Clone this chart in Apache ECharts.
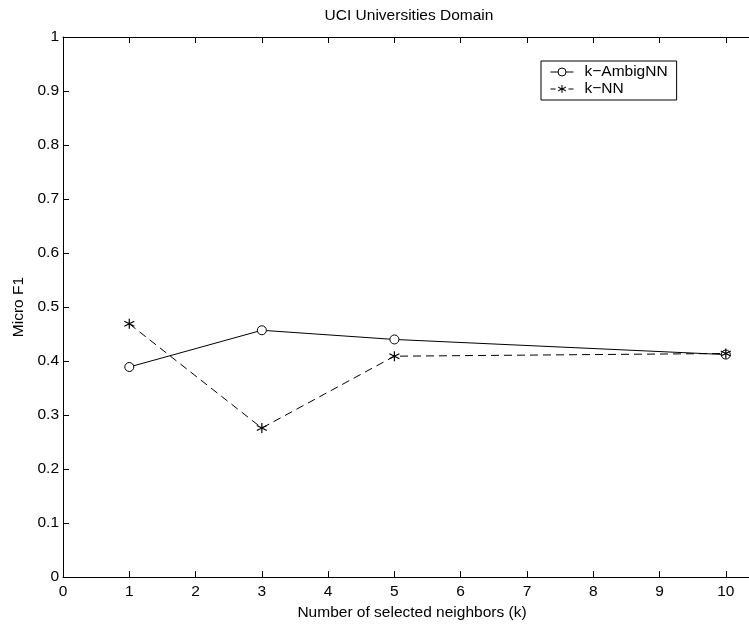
<!DOCTYPE html>
<html>
<head>
<meta charset="utf-8">
<script src="https://cdn.jsdelivr.net/npm/echarts@6/dist/echarts.min.js"></script>
<style>
  html, body { margin: 0; padding: 0; background: #fff; }
  #chart { width: 749px; height: 626px; }
</style>
</head>
<body>
<div id="chart"></div>
<script>
// Micro F1 against the number of selected neighbours k
const kValues = [1, 3, 5, 10];
const ambigNN = [0.389, 0.457, 0.440, 0.412];
const plainNN = [0.469, 0.276, 0.409, 0.414];
const seriesNames = ['k\u2212AmbigNN', 'k\u2212NN'];
const xTicks = [0, 1, 2, 3, 4, 5, 6, 7, 8, 9, 10];

const FONT = '"Liberation Sans", Arial, Helvetica, sans-serif';
const FS = 15.5;

// asterisk marker drawn as stroked spokes
const asterisk = 'path://M5,0 L5,10 M0.67,2.5 L9.33,7.5 M0.67,7.5 L9.33,2.5';
const dashPattern = [8, 5];

const pairs = (xs, ys) => xs.map((x, i) => [x, ys[i]]);

const chart = echarts.init(document.getElementById('chart'), null, { renderer: 'canvas' });

const axisText = { color: '#000', fontFamily: FONT, fontSize: FS };

chart.setOption({
  animation: false,
  backgroundColor: '#fff',
  textStyle: { fontFamily: FONT },
  title: {
    text: 'UCI Universities Domain',
    left: 404,
    top: 3,
    textAlign: 'center',
    textStyle: { color: '#000', fontFamily: FONT, fontSize: FS, fontWeight: 'normal' }
  },
  legend: {
    left: 541,
    top: 61,
    orient: 'vertical',
    padding: [3, 9, 3, 9],
    itemGap: 1,
    itemWidth: 23,
    itemHeight: 10,
    borderColor: '#000',
    borderWidth: 1,
    backgroundColor: '#fff',
    textStyle: { color: '#000', fontFamily: FONT, fontSize: FS, padding: [0, 0, 0, 6] },
    data: [
      {
        name: seriesNames[0],
        itemStyle: { color: '#fff', borderColor: '#000', borderWidth: 1 },
        lineStyle: { color: '#000', width: 1, type: 'solid' }
      },
      {
        name: seriesNames[1],
        itemStyle: { color: 'rgba(0,0,0,0)', borderColor: '#000', borderWidth: 1 },
        lineStyle: { color: '#000', width: 1, type: [5, 4] }
      }
    ]
  },
  grid: { left: 63, top: 37, right: 0, bottom: 41, containLabel: false },
  xAxis: [
    {
      type: 'value',
      position: 'bottom',
      min: 0,
      max: 10.35,
      interval: 1,
      name: 'Number of selected neighbors (k)',
      nameLocation: 'middle',
      nameGap: 24,
      nameTextStyle: Object.assign({}, axisText, { padding: [0, 0, 0, 12] }),
      axisLine: { show: true, onZero: false, lineStyle: { color: '#000', width: 1 } },
      axisTick: { show: true, inside: true, length: 6, lineStyle: { color: '#000' } },
      axisLabel: Object.assign({}, axisText, {
        margin: 7,
        showMaxLabel: false,
        formatter: v => (xTicks.indexOf(v) >= 0 ? String(v) : '')
      }),
      splitLine: { show: false }
    },
    {
      type: 'value',
      position: 'top',
      min: 0,
      max: 10.35,
      interval: 1,
      axisLine: { show: true, onZero: false, lineStyle: { color: '#000', width: 1 } },
      axisTick: { show: true, inside: true, length: 6, lineStyle: { color: '#000' } },
      axisLabel: { show: false },
      splitLine: { show: false }
    }
  ],
  yAxis: {
    type: 'value',
    min: 0,
    max: 1,
    interval: 0.1,
    name: 'Micro F1',
    nameLocation: 'middle',
    nameGap: 36,
    nameTextStyle: axisText,
    axisLine: { show: true, onZero: false, lineStyle: { color: '#000', width: 1 } },
    axisTick: { show: true, inside: true, length: 6, lineStyle: { color: '#000' } },
    axisLabel: Object.assign({}, axisText, { margin: 4 }),
    splitLine: { show: false }
  },
  series: [
    {
      name: seriesNames[0],
      type: 'line',
      data: pairs(kValues, ambigNN),
      symbol: 'circle',
      symbolSize: 9,
      showAllSymbol: true,
      lineStyle: { color: '#000', width: 1, type: 'solid' },
      itemStyle: { color: '#fff', borderColor: '#000', borderWidth: 1 },
      emphasis: { disabled: true },
      z: 2
    },
    {
      name: seriesNames[1],
      type: 'line',
      data: pairs(kValues, plainNN),
      symbol: asterisk,
      symbolSize: 10,
      showAllSymbol: true,
      lineStyle: { color: '#000', width: 1, type: dashPattern },
      itemStyle: { color: 'rgba(0,0,0,0)', borderColor: '#000', borderWidth: 1.2 },
      emphasis: { disabled: true },
      z: 3
    }
  ]
});
</script>
</body>
</html>
